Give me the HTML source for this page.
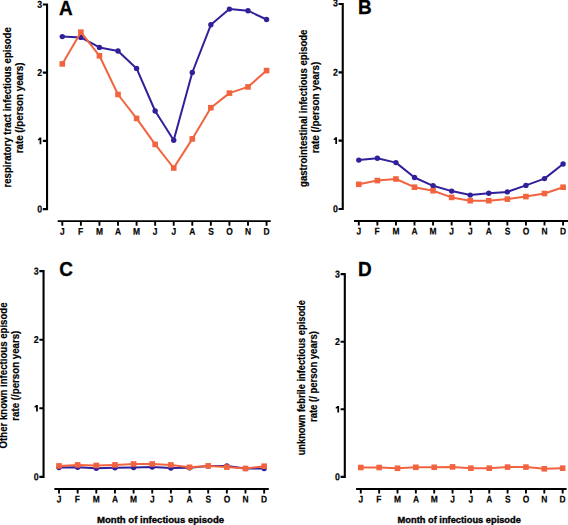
<!DOCTYPE html>
<html><head><meta charset="utf-8"><style>
html,body{margin:0;padding:0;background:#fff;}
svg{display:block;}
text{font-family:"Liberation Sans", sans-serif;font-weight:bold;fill:#000;stroke:#000;stroke-width:0.3;}
</style></head><body>
<svg width="568" height="525" viewBox="0 0 568 525">
<rect width="568" height="525" fill="#fff"/>

<path d="M42.85,4.45H47.05V209.10H42.85M42.85,140.88H47.05M42.85,72.67H47.05" fill="none" stroke="#000" stroke-width="2.1" stroke-linecap="butt" stroke-linejoin="miter"/>
<text transform="translate(42.15,212.40) rotate(0.05) scale(0.88,1)" font-size="10" text-anchor="end" style="stroke-width:0.2">0</text>
<path d="M39.60,137.58H41.35V144.18H39.60V139.68Q38.75,140.28 37.95,140.18V138.88Q39.05,138.68 39.60,137.58Z" fill="#000"/>
<text transform="translate(42.15,75.97) rotate(0.05) scale(0.88,1)" font-size="10" text-anchor="end" style="stroke-width:0.2">2</text>
<text transform="translate(42.15,7.75) rotate(0.05) scale(0.88,1)" font-size="10" text-anchor="end" style="stroke-width:0.2">3</text>
<path d="M57.70,221.10H270.80M62.30,221.10V225.70M80.87,221.10V225.70M99.44,221.10V225.70M118.01,221.10V225.70M136.58,221.10V225.70M155.15,221.10V225.70M173.72,221.10V225.70M192.29,221.10V225.70M210.86,221.10V225.70M229.43,221.10V225.70M248.00,221.10V225.70M266.57,221.10V225.70" fill="none" stroke="#000" stroke-width="1.9"/>
<text transform="translate(62.30,234.70) rotate(0.05) scale(0.86,1)" font-size="9.8" text-anchor="middle" style="stroke-width:0.2">J</text>
<text transform="translate(80.57,234.70) rotate(0.05) scale(0.86,1)" font-size="9.8" text-anchor="middle" style="stroke-width:0.2">F</text>
<text transform="translate(99.44,234.70) rotate(0.05) scale(0.86,1)" font-size="9.8" text-anchor="middle" style="stroke-width:0.2">M</text>
<text transform="translate(118.11,234.70) rotate(0.05) scale(0.86,1)" font-size="9.8" text-anchor="middle" style="stroke-width:0.2">A</text>
<text transform="translate(136.58,234.70) rotate(0.05) scale(0.86,1)" font-size="9.8" text-anchor="middle" style="stroke-width:0.2">M</text>
<text transform="translate(155.15,234.70) rotate(0.05) scale(0.86,1)" font-size="9.8" text-anchor="middle" style="stroke-width:0.2">J</text>
<text transform="translate(173.72,234.70) rotate(0.05) scale(0.86,1)" font-size="9.8" text-anchor="middle" style="stroke-width:0.2">J</text>
<text transform="translate(192.39,234.70) rotate(0.05) scale(0.86,1)" font-size="9.8" text-anchor="middle" style="stroke-width:0.2">A</text>
<text transform="translate(210.96,234.70) rotate(0.05) scale(0.86,1)" font-size="9.8" text-anchor="middle" style="stroke-width:0.2">S</text>
<text transform="translate(229.53,234.70) rotate(0.05) scale(0.86,1)" font-size="9.8" text-anchor="middle" style="stroke-width:0.2">O</text>
<text transform="translate(248.10,234.70) rotate(0.05) scale(0.86,1)" font-size="9.8" text-anchor="middle" style="stroke-width:0.2">N</text>
<text transform="translate(266.57,234.70) rotate(0.05) scale(0.86,1)" font-size="9.8" text-anchor="middle" style="stroke-width:0.2">D</text>
<text transform="translate(58.90,14.60) scale(0.95,1)" font-size="20">A</text>
<text transform="translate(10.90,107.35) rotate(-90)" x="0" y="0" font-size="10" style="stroke-width:0.2" text-anchor="middle" textLength="160.3" lengthAdjust="spacingAndGlyphs">respiratory tract infectious episode</text>
<text transform="translate(22.60,107.90) rotate(-90)" x="0" y="0" font-size="10" style="stroke-width:0.2" text-anchor="middle" textLength="90.9" lengthAdjust="spacingAndGlyphs">rate (/person years)</text>
<polyline points="62.30,36.60 80.87,37.40 99.44,47.40 118.01,51.00 136.58,68.40 155.15,111.00 173.72,140.30 192.29,72.50 210.86,24.80 229.43,9.10 248.00,10.70 266.57,19.50" fill="none" stroke="#30209a" stroke-width="2" stroke-linejoin="round"/>
<circle cx="62.30" cy="36.60" r="2.7" fill="#30209a"/>
<circle cx="80.87" cy="37.40" r="2.7" fill="#30209a"/>
<circle cx="99.44" cy="47.40" r="2.7" fill="#30209a"/>
<circle cx="118.01" cy="51.00" r="2.7" fill="#30209a"/>
<circle cx="136.58" cy="68.40" r="2.7" fill="#30209a"/>
<circle cx="155.15" cy="111.00" r="2.7" fill="#30209a"/>
<circle cx="173.72" cy="140.30" r="2.7" fill="#30209a"/>
<circle cx="192.29" cy="72.50" r="2.7" fill="#30209a"/>
<circle cx="210.86" cy="24.80" r="2.7" fill="#30209a"/>
<circle cx="229.43" cy="9.10" r="2.7" fill="#30209a"/>
<circle cx="248.00" cy="10.70" r="2.7" fill="#30209a"/>
<circle cx="266.57" cy="19.50" r="2.7" fill="#30209a"/>
<polyline points="62.30,63.90 80.87,32.20 99.44,55.80 118.01,94.50 136.58,118.40 155.15,144.40 173.72,168.00 192.29,138.90 210.86,107.70 229.43,93.10 248.00,86.90 266.57,70.60" fill="none" stroke="#f1643f" stroke-width="2" stroke-linejoin="round"/>
<rect x="59.50" y="61.10" width="5.6" height="5.6" fill="#f1643f"/>
<rect x="78.07" y="29.40" width="5.6" height="5.6" fill="#f1643f"/>
<rect x="96.64" y="53.00" width="5.6" height="5.6" fill="#f1643f"/>
<rect x="115.21" y="91.70" width="5.6" height="5.6" fill="#f1643f"/>
<rect x="133.78" y="115.60" width="5.6" height="5.6" fill="#f1643f"/>
<rect x="152.35" y="141.60" width="5.6" height="5.6" fill="#f1643f"/>
<rect x="170.92" y="165.20" width="5.6" height="5.6" fill="#f1643f"/>
<rect x="189.49" y="136.10" width="5.6" height="5.6" fill="#f1643f"/>
<rect x="208.06" y="104.90" width="5.6" height="5.6" fill="#f1643f"/>
<rect x="226.63" y="90.30" width="5.6" height="5.6" fill="#f1643f"/>
<rect x="245.20" y="84.10" width="5.6" height="5.6" fill="#f1643f"/>
<rect x="263.77" y="67.80" width="5.6" height="5.6" fill="#f1643f"/>
<path d="M338.55,4.00H342.75V209.00H338.55M338.55,140.67H342.75M338.55,72.33H342.75" fill="none" stroke="#000" stroke-width="2.1" stroke-linecap="butt" stroke-linejoin="miter"/>
<text transform="translate(337.85,212.30) rotate(0.05) scale(0.88,1)" font-size="10" text-anchor="end" style="stroke-width:0.2">0</text>
<path d="M335.30,137.37H337.05V143.97H335.30V139.47Q334.45,140.07 333.65,139.97V138.67Q334.75,138.47 335.30,137.37Z" fill="#000"/>
<text transform="translate(337.85,75.63) rotate(0.05) scale(0.88,1)" font-size="10" text-anchor="end" style="stroke-width:0.2">2</text>
<text transform="translate(337.85,6.30) rotate(0.05) scale(0.88,1)" font-size="10" text-anchor="end" style="stroke-width:0.2">3</text>
<path d="M354.00,221.00H568.50M358.80,221.00V225.60M377.37,221.00V225.60M395.94,221.00V225.60M414.51,221.00V225.60M433.08,221.00V225.60M451.65,221.00V225.60M470.22,221.00V225.60M488.79,221.00V225.60M507.36,221.00V225.60M525.93,221.00V225.60M544.50,221.00V225.60M563.07,221.00V225.60" fill="none" stroke="#000" stroke-width="1.9"/>
<text transform="translate(358.80,234.60) rotate(0.05) scale(0.86,1)" font-size="9.8" text-anchor="middle" style="stroke-width:0.2">J</text>
<text transform="translate(377.07,234.60) rotate(0.05) scale(0.86,1)" font-size="9.8" text-anchor="middle" style="stroke-width:0.2">F</text>
<text transform="translate(395.94,234.60) rotate(0.05) scale(0.86,1)" font-size="9.8" text-anchor="middle" style="stroke-width:0.2">M</text>
<text transform="translate(414.61,234.60) rotate(0.05) scale(0.86,1)" font-size="9.8" text-anchor="middle" style="stroke-width:0.2">A</text>
<text transform="translate(433.08,234.60) rotate(0.05) scale(0.86,1)" font-size="9.8" text-anchor="middle" style="stroke-width:0.2">M</text>
<text transform="translate(451.65,234.60) rotate(0.05) scale(0.86,1)" font-size="9.8" text-anchor="middle" style="stroke-width:0.2">J</text>
<text transform="translate(470.22,234.60) rotate(0.05) scale(0.86,1)" font-size="9.8" text-anchor="middle" style="stroke-width:0.2">J</text>
<text transform="translate(488.89,234.60) rotate(0.05) scale(0.86,1)" font-size="9.8" text-anchor="middle" style="stroke-width:0.2">A</text>
<text transform="translate(507.46,234.60) rotate(0.05) scale(0.86,1)" font-size="9.8" text-anchor="middle" style="stroke-width:0.2">S</text>
<text transform="translate(526.03,234.60) rotate(0.05) scale(0.86,1)" font-size="9.8" text-anchor="middle" style="stroke-width:0.2">O</text>
<text transform="translate(544.60,234.60) rotate(0.05) scale(0.86,1)" font-size="9.8" text-anchor="middle" style="stroke-width:0.2">N</text>
<text transform="translate(563.07,234.60) rotate(0.05) scale(0.86,1)" font-size="9.8" text-anchor="middle" style="stroke-width:0.2">D</text>
<text transform="translate(358.00,14.30) scale(0.95,1)" font-size="20">B</text>
<text transform="translate(307.10,108.25) rotate(-90)" x="0" y="0" font-size="10" style="stroke-width:0.2" text-anchor="middle" textLength="157.3" lengthAdjust="spacingAndGlyphs">gastrointestinal infectious episode</text>
<text transform="translate(318.70,107.50) rotate(-90)" x="0" y="0" font-size="10" style="stroke-width:0.2" text-anchor="middle" textLength="91.7" lengthAdjust="spacingAndGlyphs">rate (/person years)</text>
<polyline points="358.80,160.10 377.37,158.30 395.94,162.60 414.51,177.50 433.08,185.80 451.65,191.10 470.22,195.10 488.79,193.30 507.36,191.90 525.93,185.40 544.50,178.60 563.07,164.00" fill="none" stroke="#30209a" stroke-width="2" stroke-linejoin="round"/>
<circle cx="358.80" cy="160.10" r="2.7" fill="#30209a"/>
<circle cx="377.37" cy="158.30" r="2.7" fill="#30209a"/>
<circle cx="395.94" cy="162.60" r="2.7" fill="#30209a"/>
<circle cx="414.51" cy="177.50" r="2.7" fill="#30209a"/>
<circle cx="433.08" cy="185.80" r="2.7" fill="#30209a"/>
<circle cx="451.65" cy="191.10" r="2.7" fill="#30209a"/>
<circle cx="470.22" cy="195.10" r="2.7" fill="#30209a"/>
<circle cx="488.79" cy="193.30" r="2.7" fill="#30209a"/>
<circle cx="507.36" cy="191.90" r="2.7" fill="#30209a"/>
<circle cx="525.93" cy="185.40" r="2.7" fill="#30209a"/>
<circle cx="544.50" cy="178.60" r="2.7" fill="#30209a"/>
<circle cx="563.07" cy="164.00" r="2.7" fill="#30209a"/>
<polyline points="358.80,184.30 377.37,180.60 395.94,179.00 414.51,187.20 433.08,190.70 451.65,197.40 470.22,200.70 488.79,200.70 507.36,199.10 525.93,196.60 544.50,193.50 563.07,187.20" fill="none" stroke="#f1643f" stroke-width="2" stroke-linejoin="round"/>
<rect x="356.00" y="181.50" width="5.6" height="5.6" fill="#f1643f"/>
<rect x="374.57" y="177.80" width="5.6" height="5.6" fill="#f1643f"/>
<rect x="393.14" y="176.20" width="5.6" height="5.6" fill="#f1643f"/>
<rect x="411.71" y="184.40" width="5.6" height="5.6" fill="#f1643f"/>
<rect x="430.28" y="187.90" width="5.6" height="5.6" fill="#f1643f"/>
<rect x="448.85" y="194.60" width="5.6" height="5.6" fill="#f1643f"/>
<rect x="467.42" y="197.90" width="5.6" height="5.6" fill="#f1643f"/>
<rect x="485.99" y="197.90" width="5.6" height="5.6" fill="#f1643f"/>
<rect x="504.56" y="196.30" width="5.6" height="5.6" fill="#f1643f"/>
<rect x="523.13" y="193.80" width="5.6" height="5.6" fill="#f1643f"/>
<rect x="541.70" y="190.70" width="5.6" height="5.6" fill="#f1643f"/>
<rect x="560.27" y="184.40" width="5.6" height="5.6" fill="#f1643f"/>
<path d="M39.35,271.10H43.55V476.90H39.35M39.35,408.30H43.55M39.35,339.70H43.55" fill="none" stroke="#000" stroke-width="2.1" stroke-linecap="butt" stroke-linejoin="miter"/>
<text transform="translate(38.65,480.20) rotate(0.05) scale(0.88,1)" font-size="10" text-anchor="end" style="stroke-width:0.2">0</text>
<path d="M36.10,405.00H37.85V411.60H36.10V407.10Q35.25,407.70 34.45,407.60V406.30Q35.55,406.10 36.10,405.00Z" fill="#000"/>
<text transform="translate(38.65,343.00) rotate(0.05) scale(0.88,1)" font-size="10" text-anchor="end" style="stroke-width:0.2">2</text>
<text transform="translate(38.65,274.40) rotate(0.05) scale(0.88,1)" font-size="10" text-anchor="end" style="stroke-width:0.2">3</text>
<path d="M54.40,489.00H268.80M59.00,489.00V493.60M77.65,489.00V493.60M96.30,489.00V493.60M114.95,489.00V493.60M133.60,489.00V493.60M152.25,489.00V493.60M170.90,489.00V493.60M189.55,489.00V493.60M208.20,489.00V493.60M226.85,489.00V493.60M245.50,489.00V493.60M264.15,489.00V493.60" fill="none" stroke="#000" stroke-width="1.9"/>
<text transform="translate(59.00,502.60) rotate(0.05) scale(0.86,1)" font-size="9.8" text-anchor="middle" style="stroke-width:0.2">J</text>
<text transform="translate(77.35,502.60) rotate(0.05) scale(0.86,1)" font-size="9.8" text-anchor="middle" style="stroke-width:0.2">F</text>
<text transform="translate(96.30,502.60) rotate(0.05) scale(0.86,1)" font-size="9.8" text-anchor="middle" style="stroke-width:0.2">M</text>
<text transform="translate(115.05,502.60) rotate(0.05) scale(0.86,1)" font-size="9.8" text-anchor="middle" style="stroke-width:0.2">A</text>
<text transform="translate(133.60,502.60) rotate(0.05) scale(0.86,1)" font-size="9.8" text-anchor="middle" style="stroke-width:0.2">M</text>
<text transform="translate(152.25,502.60) rotate(0.05) scale(0.86,1)" font-size="9.8" text-anchor="middle" style="stroke-width:0.2">J</text>
<text transform="translate(170.90,502.60) rotate(0.05) scale(0.86,1)" font-size="9.8" text-anchor="middle" style="stroke-width:0.2">J</text>
<text transform="translate(189.65,502.60) rotate(0.05) scale(0.86,1)" font-size="9.8" text-anchor="middle" style="stroke-width:0.2">A</text>
<text transform="translate(208.30,502.60) rotate(0.05) scale(0.86,1)" font-size="9.8" text-anchor="middle" style="stroke-width:0.2">S</text>
<text transform="translate(226.95,502.60) rotate(0.05) scale(0.86,1)" font-size="9.8" text-anchor="middle" style="stroke-width:0.2">O</text>
<text transform="translate(245.60,502.60) rotate(0.05) scale(0.86,1)" font-size="9.8" text-anchor="middle" style="stroke-width:0.2">N</text>
<text transform="translate(264.15,502.60) rotate(0.05) scale(0.86,1)" font-size="9.8" text-anchor="middle" style="stroke-width:0.2">D</text>
<text transform="translate(59.30,276.40) scale(0.95,1)" font-size="20">C</text>
<text transform="translate(7.40,375.45) rotate(-90)" x="0" y="0" font-size="10" style="stroke-width:0.2" text-anchor="middle" textLength="145.9" lengthAdjust="spacingAndGlyphs">Other known infectious episode</text>
<text transform="translate(19.10,375.65) rotate(-90)" x="0" y="0" font-size="10" style="stroke-width:0.2" text-anchor="middle" textLength="90.0" lengthAdjust="spacingAndGlyphs">rate (/person years)</text>
<polyline points="59.00,467.50 77.65,467.30 96.30,468.30 114.95,467.70 133.60,467.50 152.25,467.00 170.90,468.00 189.55,467.70 208.20,466.10 226.85,466.00 245.50,468.50 264.15,468.50" fill="none" stroke="#30209a" stroke-width="2" stroke-linejoin="round"/>
<circle cx="59.00" cy="467.50" r="2.7" fill="#30209a"/>
<circle cx="77.65" cy="467.30" r="2.7" fill="#30209a"/>
<circle cx="96.30" cy="468.30" r="2.7" fill="#30209a"/>
<circle cx="114.95" cy="467.70" r="2.7" fill="#30209a"/>
<circle cx="133.60" cy="467.50" r="2.7" fill="#30209a"/>
<circle cx="152.25" cy="467.00" r="2.7" fill="#30209a"/>
<circle cx="170.90" cy="468.00" r="2.7" fill="#30209a"/>
<circle cx="189.55" cy="467.70" r="2.7" fill="#30209a"/>
<circle cx="208.20" cy="466.10" r="2.7" fill="#30209a"/>
<circle cx="226.85" cy="466.00" r="2.7" fill="#30209a"/>
<circle cx="245.50" cy="468.50" r="2.7" fill="#30209a"/>
<circle cx="264.15" cy="468.50" r="2.7" fill="#30209a"/>
<polyline points="59.00,465.90 77.65,464.90 96.30,465.40 114.95,464.90 133.60,464.00 152.25,464.00 170.90,464.90 189.55,467.30 208.20,465.90 226.85,467.10 245.50,468.50 264.15,466.20" fill="none" stroke="#f1643f" stroke-width="2" stroke-linejoin="round"/>
<rect x="56.20" y="463.10" width="5.6" height="5.6" fill="#f1643f"/>
<rect x="74.85" y="462.10" width="5.6" height="5.6" fill="#f1643f"/>
<rect x="93.50" y="462.60" width="5.6" height="5.6" fill="#f1643f"/>
<rect x="112.15" y="462.10" width="5.6" height="5.6" fill="#f1643f"/>
<rect x="130.80" y="461.20" width="5.6" height="5.6" fill="#f1643f"/>
<rect x="149.45" y="461.20" width="5.6" height="5.6" fill="#f1643f"/>
<rect x="168.10" y="462.10" width="5.6" height="5.6" fill="#f1643f"/>
<rect x="186.75" y="464.50" width="5.6" height="5.6" fill="#f1643f"/>
<rect x="205.40" y="463.10" width="5.6" height="5.6" fill="#f1643f"/>
<rect x="224.05" y="464.30" width="5.6" height="5.6" fill="#f1643f"/>
<rect x="242.70" y="465.70" width="5.6" height="5.6" fill="#f1643f"/>
<rect x="261.35" y="463.40" width="5.6" height="5.6" fill="#f1643f"/>
<text x="160.55" y="522.90" font-size="9.3" style="stroke-width:0.35" text-anchor="middle" textLength="127.1" lengthAdjust="spacingAndGlyphs">Month of infectious episode</text>
<path d="M340.60,274.10H344.80V476.90H340.60M340.60,409.30H344.80M340.60,341.70H344.80" fill="none" stroke="#000" stroke-width="2.1" stroke-linecap="butt" stroke-linejoin="miter"/>
<text transform="translate(339.90,480.20) rotate(0.05) scale(0.88,1)" font-size="10" text-anchor="end" style="stroke-width:0.2">0</text>
<path d="M337.35,406.00H339.10V412.60H337.35V408.10Q336.50,408.70 335.70,408.60V407.30Q336.80,407.10 337.35,406.00Z" fill="#000"/>
<text transform="translate(339.90,345.00) rotate(0.05) scale(0.88,1)" font-size="10" text-anchor="end" style="stroke-width:0.2">2</text>
<text transform="translate(339.90,277.40) rotate(0.05) scale(0.88,1)" font-size="10" text-anchor="end" style="stroke-width:0.2">3</text>
<path d="M356.10,489.00H566.60M360.80,489.00V493.60M379.15,489.00V493.60M397.50,489.00V493.60M415.85,489.00V493.60M434.20,489.00V493.60M452.55,489.00V493.60M470.90,489.00V493.60M489.25,489.00V493.60M507.60,489.00V493.60M525.95,489.00V493.60M544.30,489.00V493.60M562.65,489.00V493.60" fill="none" stroke="#000" stroke-width="1.9"/>
<text transform="translate(360.80,502.60) rotate(0.05) scale(0.86,1)" font-size="9.8" text-anchor="middle" style="stroke-width:0.2">J</text>
<text transform="translate(378.85,502.60) rotate(0.05) scale(0.86,1)" font-size="9.8" text-anchor="middle" style="stroke-width:0.2">F</text>
<text transform="translate(397.50,502.60) rotate(0.05) scale(0.86,1)" font-size="9.8" text-anchor="middle" style="stroke-width:0.2">M</text>
<text transform="translate(415.95,502.60) rotate(0.05) scale(0.86,1)" font-size="9.8" text-anchor="middle" style="stroke-width:0.2">A</text>
<text transform="translate(434.20,502.60) rotate(0.05) scale(0.86,1)" font-size="9.8" text-anchor="middle" style="stroke-width:0.2">M</text>
<text transform="translate(452.55,502.60) rotate(0.05) scale(0.86,1)" font-size="9.8" text-anchor="middle" style="stroke-width:0.2">J</text>
<text transform="translate(470.90,502.60) rotate(0.05) scale(0.86,1)" font-size="9.8" text-anchor="middle" style="stroke-width:0.2">J</text>
<text transform="translate(489.35,502.60) rotate(0.05) scale(0.86,1)" font-size="9.8" text-anchor="middle" style="stroke-width:0.2">A</text>
<text transform="translate(507.70,502.60) rotate(0.05) scale(0.86,1)" font-size="9.8" text-anchor="middle" style="stroke-width:0.2">S</text>
<text transform="translate(526.05,502.60) rotate(0.05) scale(0.86,1)" font-size="9.8" text-anchor="middle" style="stroke-width:0.2">O</text>
<text transform="translate(544.40,502.60) rotate(0.05) scale(0.86,1)" font-size="9.8" text-anchor="middle" style="stroke-width:0.2">N</text>
<text transform="translate(562.65,502.60) rotate(0.05) scale(0.86,1)" font-size="9.8" text-anchor="middle" style="stroke-width:0.2">D</text>
<text transform="translate(358.00,276.40) scale(0.95,1)" font-size="20">D</text>
<text transform="translate(304.60,377.70) rotate(-90)" x="0" y="0" font-size="10" style="stroke-width:0.2" text-anchor="middle" textLength="155.2" lengthAdjust="spacingAndGlyphs">unknown febrile infectious episode</text>
<text transform="translate(316.60,376.60) rotate(-90)" x="0" y="0" font-size="10" style="stroke-width:0.2" text-anchor="middle" textLength="90.9" lengthAdjust="spacingAndGlyphs">rate (/ person years)</text>
<polyline points="360.80,467.50 379.15,467.50 397.50,468.30 415.85,467.30 434.20,467.30 452.55,466.90 470.90,468.20 489.25,468.20 507.60,467.10 525.95,467.10 544.30,468.80 562.65,468.20" fill="none" stroke="#f1643f" stroke-width="2" stroke-linejoin="round"/>
<rect x="358.00" y="464.70" width="5.6" height="5.6" fill="#f1643f"/>
<rect x="376.35" y="464.70" width="5.6" height="5.6" fill="#f1643f"/>
<rect x="394.70" y="465.50" width="5.6" height="5.6" fill="#f1643f"/>
<rect x="413.05" y="464.50" width="5.6" height="5.6" fill="#f1643f"/>
<rect x="431.40" y="464.50" width="5.6" height="5.6" fill="#f1643f"/>
<rect x="449.75" y="464.10" width="5.6" height="5.6" fill="#f1643f"/>
<rect x="468.10" y="465.40" width="5.6" height="5.6" fill="#f1643f"/>
<rect x="486.45" y="465.40" width="5.6" height="5.6" fill="#f1643f"/>
<rect x="504.80" y="464.30" width="5.6" height="5.6" fill="#f1643f"/>
<rect x="523.15" y="464.30" width="5.6" height="5.6" fill="#f1643f"/>
<rect x="541.50" y="466.00" width="5.6" height="5.6" fill="#f1643f"/>
<rect x="559.85" y="465.40" width="5.6" height="5.6" fill="#f1643f"/>
<text x="459.25" y="522.90" font-size="9.3" style="stroke-width:0.35" text-anchor="middle" textLength="123.3" lengthAdjust="spacingAndGlyphs">Month of infectious episode</text>
</svg>
</body></html>
